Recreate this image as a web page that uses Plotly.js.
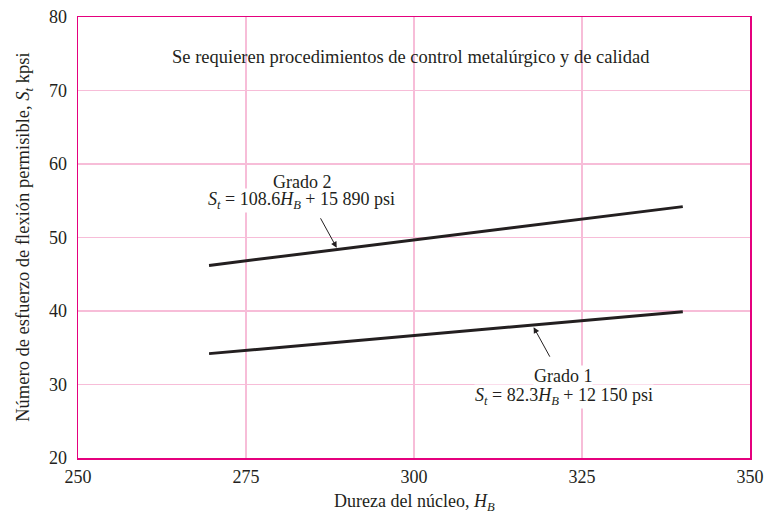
<!DOCTYPE html>
<html>
<head>
<meta charset="utf-8">
<script src="https://cdn.plot.ly/plotly-3.0.1.min.js"></script>
<style>
  html, body { margin: 0; padding: 0; background: white; }
  #chart { width: 766px; height: 511px; }
</style>
</head>
<body>
<div id="chart"></div>
<script>
// Hardness range and allowable bending stress (kpsi)
const hardness = [269.5, 340];
const grade1 = [34.2, 39.9];
const grade2 = [46.2, 54.2];

const xTicks = [250, 275, 300, 325, 350];
const yTicks = [20, 30, 40, 50, 60, 70, 80];

const ink = '#231f20';
const axisColor = '#e5007e';
const gridColor = '#f7bdd8';
const serif = '"Liberation Serif", serif';

const traces = [
    {
        x: hardness,
        y: grade2,
        type: 'scatter',
        mode: 'lines',
        name: 'Grado 2',
        line: { color: ink, width: 3 }
    },
    {
        x: hardness,
        y: grade1,
        type: 'scatter',
        mode: 'lines',
        name: 'Grado 1',
        line: { color: ink, width: 3 }
    }
];

// one text line per annotation, the figure sets them tighter than <br> does
function label(x, y, text) {
    return {
        x: x, y: y, xref: 'x', yref: 'y',
        text: text,
        showarrow: false,
        bgcolor: 'white',
        borderpad: 0,
        font: { family: serif, size: 18, color: ink }
    };
}

function pointer(x, y, ax, ay) {
    return {
        x: x, y: y, xref: 'x', yref: 'y',
        text: '',
        showarrow: true,
        arrowhead: 2,
        arrowsize: 1.2,
        arrowwidth: 1,
        arrowcolor: ink,
        ax: ax, ay: ay
    };
}

const layout = {
    width: 766,
    height: 511,
    margin: { l: 78, r: 16, t: 17, b: 53 },
    showlegend: false,
    plot_bgcolor: 'white',
    paper_bgcolor: 'white',
    font: { family: serif, size: 18, color: ink },
    xaxis: {
        range: [250, 350],
        tickvals: xTicks,
        ticks: '',
        ticklabelstandoff: 2,
        showgrid: true,
        gridcolor: gridColor,
        gridwidth: 1.5,
        zeroline: false,
        showline: true,
        mirror: true,
        linecolor: axisColor,
        linewidth: 1.5,
        tickfont: { family: serif, size: 18, color: ink }
    },
    yaxis: {
        range: [20, 80],
        tickvals: yTicks,
        ticks: '',
        ticklabelstandoff: 6,
        showgrid: true,
        gridcolor: gridColor,
        gridwidth: 1.5,
        zeroline: false,
        showline: true,
        mirror: true,
        linecolor: axisColor,
        linewidth: 1.5,
        tickfont: { family: serif, size: 18, color: ink }
    },
    annotations: [
        {
            x: 299.6, y: 74.6, xref: 'x', yref: 'y',
            text: 'Se requieren procedimientos de control metalúrgico y de calidad',
            showarrow: false,
            font: { family: serif, size: 18.5, color: ink }
        },
        label(283.3, 57.5, 'Grado 2'),
        label(283.3, 55.0, '<i>S<sub>t</sub></i> = 108.6<i>H<sub>B</sub></i> + 15 890 psi'),
        label(322.2, 31.1, 'Grado 1'),
        label(322.3, 28.4, '<i>S<sub>t</sub></i> = 82.3<i>H<sub>B</sub></i> + 12 150 psi'),
        pointer(288.5, 48.6, -17, -31),
        pointer(317.8, 37.8, 17, 31),
        {
            x: -0.080, y: 0.5, xref: 'paper', yref: 'paper',
            xanchor: 'center', yanchor: 'middle',
            text: 'Número de esfuerzo de flexión permisible, <i>S<sub>t</sub></i> kpsi',
            textangle: -90,
            showarrow: false,
            font: { family: serif, size: 18.5, color: ink }
        },
        {
            x: 0.5, y: -0.101, xref: 'paper', yref: 'paper',
            xanchor: 'center', yanchor: 'middle',
            text: 'Dureza del núcleo, <i>H<sub>B</sub></i>',
            showarrow: false,
            font: { family: serif, size: 18, color: ink }
        }
    ]
};

Plotly.newPlot('chart', traces, layout, { displayModeBar: false, staticPlot: true });
</script>
</body>
</html>
